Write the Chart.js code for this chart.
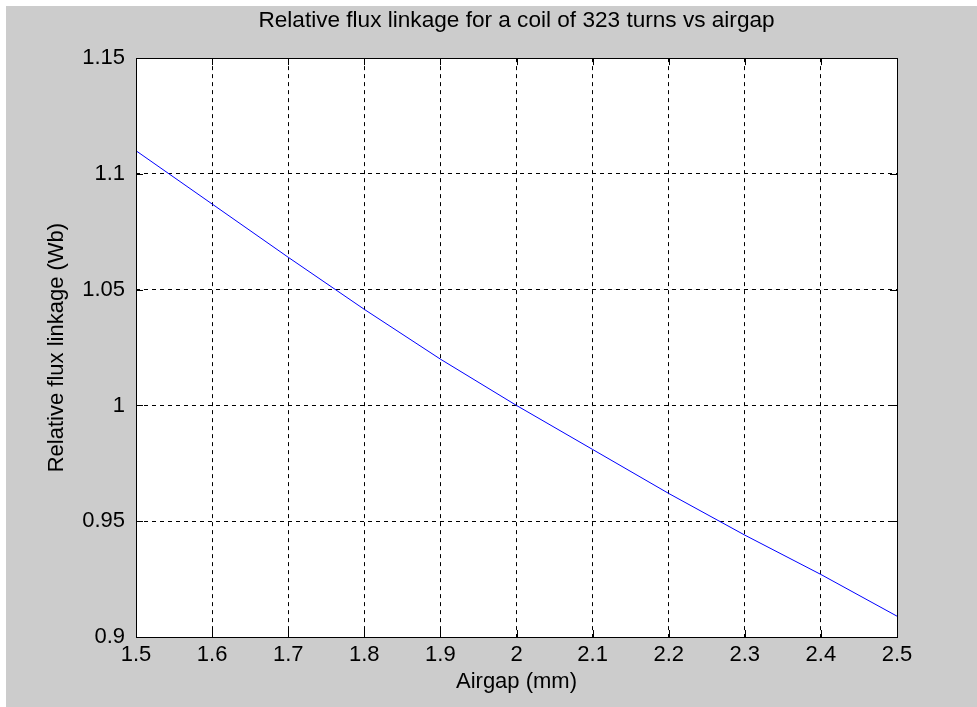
<!DOCTYPE html>
<html>
<head>
<meta charset="utf-8">
<script src="https://cdn.jsdelivr.net/npm/chart.js@4.4.1/dist/chart.umd.min.js"></script>
<style>
  html, body { margin: 0; padding: 0; background: #ffffff; }
  #wrap { position: absolute; left: 6px; top: 6px; width: 971px; height: 701px; background: #cccccc; }
  canvas { display: block; }
</style>
</head>
<body>
<div id="wrap"><canvas id="fluxChart" width="971" height="701"></canvas></div>
<script>
// data
const airgap = [1.5, 1.6, 1.7, 1.8, 1.9, 2.0, 2.1, 2.2, 2.3, 2.4, 2.5];
const fluxLinkage = [1.110, 1.087, 1.064, 1.0415, 1.020, 1.000, 0.981, 0.962, 0.944, 0.927, 0.909];

const xTicks = [1.5, 1.6, 1.7, 1.8, 1.9, 2.0, 2.1, 2.2, 2.3, 2.4, 2.5];
const yTicks = [0.9, 0.95, 1.0, 1.05, 1.1, 1.15];

const FONT = 'Liberation Sans, Arial, sans-serif';

// box round the axes plus inward tick marks (matlab style)
const axesBox = {
    id: 'axesBox',
    beforeDraw(chart) {
        const { ctx, chartArea: a } = chart;
        ctx.save();
        ctx.fillStyle = '#ffffff';
        ctx.fillRect(a.left, a.top, a.right - a.left, a.bottom - a.top);
        ctx.restore();
    },
    afterDatasetsDraw(chart) {
        const { ctx, chartArea: a, scales } = chart;
        const len = 7;
        ctx.save();
        ctx.strokeStyle = '#000000';
        ctx.lineWidth = 1;
        ctx.beginPath();
        xTicks.forEach(v => {
            const px = Math.round(scales.x.getPixelForValue(v)) + 0.5;
            ctx.moveTo(px, a.bottom); ctx.lineTo(px, a.bottom - len);
            ctx.moveTo(px, a.top); ctx.lineTo(px, a.top + len);
        });
        yTicks.forEach(v => {
            const py = Math.round(scales.y.getPixelForValue(v)) + 0.5;
            ctx.moveTo(a.left, py); ctx.lineTo(a.left + len, py);
            ctx.moveTo(a.right, py); ctx.lineTo(a.right - len, py);
        });
        ctx.stroke();
        ctx.strokeRect(Math.round(a.left) + 0.5, Math.round(a.top) + 0.5,
            Math.round(a.right - a.left), Math.round(a.bottom - a.top));
        ctx.restore();
    }
};

const fmt = v => String(Number(Number(v).toFixed(2)));

new Chart(document.getElementById('fluxChart'), {
    type: 'line',
    data: {
        datasets: [{
            data: airgap.map((x, i) => ({ x: x, y: fluxLinkage[i] })),
            borderColor: '#0000ff',
            borderWidth: 1,
            pointRadius: 0,
            tension: 0,
            fill: false
        }]
    },
    options: {
        responsive: false,
        animation: false,
        layout: { padding: { left: 0, right: 80, top: 0, bottom: 0 } },
        plugins: {
            legend: { display: false },
            tooltip: { enabled: false },
            title: {
                display: true,
                text: 'Relative flux linkage for a coil of 323 turns vs airgap',
                color: '#000000',
                fullSize: false,
                font: { family: FONT, size: 22.6, weight: 'normal' },
                padding: { top: 1, bottom: 24 }
            }
        },
        scales: {
            x: {
                type: 'linear',
                min: 1.5,
                max: 2.5,
                afterFit(scale) { scale.height = 70; },
                afterBuildTicks(scale) { scale.ticks = xTicks.map(v => ({ value: v })); },
                grid: { color: '#000000', lineWidth: 1, drawTicks: false },
                border: { display: false, dash: [4, 4] },
                ticks: {
                    color: '#000000',
                    padding: 5,
                    maxRotation: 0,
                    autoSkip: false,
                    font: { family: FONT, size: 22 },
                    callback: fmt
                },
                title: {
                    display: true,
                    text: 'Airgap (mm)',
                    color: '#000000',
                    font: { family: FONT, size: 22 },
                    padding: { top: 0, bottom: 12 }
                }
            },
            y: {
                min: 0.9,
                max: 1.15,
                afterFit(scale) { scale.width = 130; },
                afterBuildTicks(scale) { scale.ticks = yTicks.map(v => ({ value: v })); },
                grid: { color: '#000000', lineWidth: 1, drawTicks: false },
                border: { display: false, dash: [4, 4] },
                ticks: {
                    color: '#000000',
                    padding: 11,
                    autoSkip: false,
                    font: { family: FONT, size: 22 },
                    callback: fmt
                },
                title: {
                    display: true,
                    text: 'Relative flux linkage (Wb)',
                    color: '#000000',
                    font: { family: FONT, size: 22 },
                    padding: { top: 38, bottom: 0 }
                }
            }
        }
    },
    plugins: [axesBox]
});
</script>
</body>
</html>
